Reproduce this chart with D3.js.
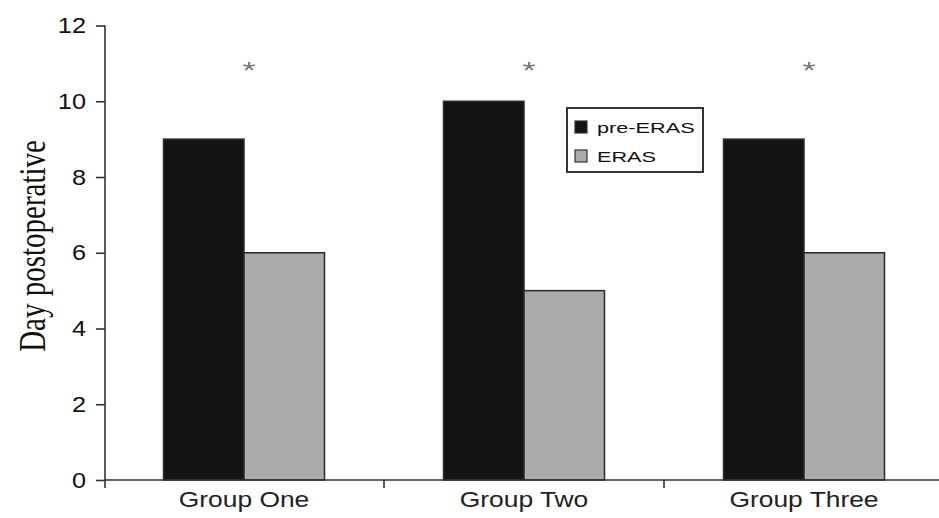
<!DOCTYPE html>
<html>
<head>
<meta charset="utf-8">
<script src="https://cdn.jsdelivr.net/npm/d3@7"></script>
<style>
  body { margin: 0; background: #fff; }
  svg { display: block; }
</style>
</head>
<body>
<div id="chart"></div>
<script>
const groups = ["Group One", "Group Two", "Group Three"];
const seriesNames = ["pre-ERAS", "ERAS"];
const preEras = [9, 10, 9];
const eras = [6, 5, 6];
const yTicks = [0, 2, 4, 6, 8, 10, 12];
const starred = ["Group One", "Group Two", "Group Three"];

const width = 939, height = 518;
const colors = { "pre-ERAS": "#141414", "ERAS": "#ababab" };

const svg = d3.select('#chart').append('svg')
  .attr('width', width)
  .attr('height', height);

const x0 = d3.scaleBand()
  .domain(groups)
  .range([104, 944])
  .paddingInner(0.425)
  .paddingOuter(0.2125);

const x1 = d3.scaleBand()
  .domain(seriesNames)
  .range([0, x0.bandwidth()]);

const y = d3.scaleLinear()
  .domain([0, 12])
  .range([480, 25.5]);

const rows = groups.map((g, i) => ({ group: g, values: [
  { key: "pre-ERAS", value: preEras[i] },
  { key: "ERAS", value: eras[i] }
]}));

// bars
svg.append('g').selectAll('g')
  .data(rows)
  .join('g')
  .attr('transform', d => `translate(${x0(d.group)},0)`)
  .selectAll('rect')
  .data(d => d.values)
  .join('rect')
  .attr('x', d => x1(d.key))
  .attr('y', d => y(d.value))
  .attr('width', x1.bandwidth())
  .attr('height', d => y(0) - y(d.value))
  .attr('fill', d => colors[d.key])
  .attr('stroke', '#2a2a2a')
  .attr('stroke-width', 1.5);

// y axis
const yAxis = svg.append('g')
  .attr('transform', 'translate(105,0)')
  .call(d3.axisLeft(y).tickValues(yTicks).tickSize(9).tickPadding(10));
yAxis.select('.domain').attr('stroke', '#333').attr('stroke-width', 1.6)
  .attr('d', `M0,${y(12)}V${y(0) + 8}`);
yAxis.selectAll('.tick line').attr('stroke', '#333').attr('stroke-width', 1.6);
yAxis.selectAll('.tick text')
  .attr('font-family', 'Liberation Sans, Arial, sans-serif')
  .attr('font-size', 22)
  .attr('fill', '#111')
  .attr('x', null)
  .attr('transform', 'translate(-19,0) scale(1.15,1)');

// x axis: line, boundary ticks, labels
const xAxis = svg.append('g').attr('transform', `translate(0,${y(0)})`);
xAxis.append('path')
  .attr('d', `M105,0H${width}`)
  .attr('stroke', '#333')
  .attr('stroke-width', 1.6);
const bounds = groups.map(g => x0(g) - x0.step() * x0.paddingOuter());
xAxis.selectAll('.bound')
  .data(bounds.slice(1))
  .join('line')
  .attr('class', 'bound')
  .attr('x1', d => d).attr('x2', d => d)
  .attr('y1', 0).attr('y2', 8)
  .attr('stroke', '#333')
  .attr('stroke-width', 1.6);
xAxis.selectAll('.glabel')
  .data(groups)
  .join('text')
  .attr('class', 'glabel')
  .attr('transform', d => `translate(${x0(d) + x0.bandwidth() / 2},27) scale(1.2,1)`)
  .attr('text-anchor', 'middle')
  .attr('font-family', 'Liberation Sans, Arial, sans-serif')
  .attr('font-size', 22)
  .attr('fill', '#222')
  .text(d => d);

// significance asterisks
svg.selectAll('.star')
  .data(starred)
  .join('text')
  .attr('class', 'star')
  .attr('transform', d => `translate(${x0(d) + x0.bandwidth() / 2 + 5},${y(11) + 16}) scale(1.4,1)`)
  .attr('text-anchor', 'middle')
  .attr('font-family', 'Liberation Sans, Arial, sans-serif')
  .attr('font-size', 24)
  .attr('fill', '#777')
  .text('*');

// y label
svg.append('text')
  .attr('transform', 'translate(45,246) rotate(-90) scale(1,1.3)')
  .attr('text-anchor', 'middle')
  .attr('font-family', 'Liberation Serif, Times New Roman, serif')
  .attr('font-size', 29)
  .attr('fill', '#111')
  .text('Day postoperative');

// legend
const legend = svg.append('g').attr('transform', 'translate(567,108)');
legend.append('rect')
  .attr('width', 136).attr('height', 64)
  .attr('fill', '#fff')
  .attr('stroke', '#333')
  .attr('stroke-width', 2);
const item = legend.selectAll('.item')
  .data(seriesNames)
  .join('g')
  .attr('class', 'item')
  .attr('transform', (d, i) => `translate(0,${13 + i * 29})`);
item.append('rect')
  .attr('x', 8).attr('width', 12).attr('height', 12)
  .attr('fill', d => colors[d])
  .attr('stroke', '#333')
  .attr('stroke-width', 1.2);
item.append('text')
  .attr('transform', 'translate(30,8) scale(1.4,1)')
  .attr('dy', 4)
  .attr('font-family', 'Liberation Sans, Arial, sans-serif')
  .attr('font-size', 15.5)
  .attr('fill', '#111')
  .text(d => d);
</script>
</body>
</html>
